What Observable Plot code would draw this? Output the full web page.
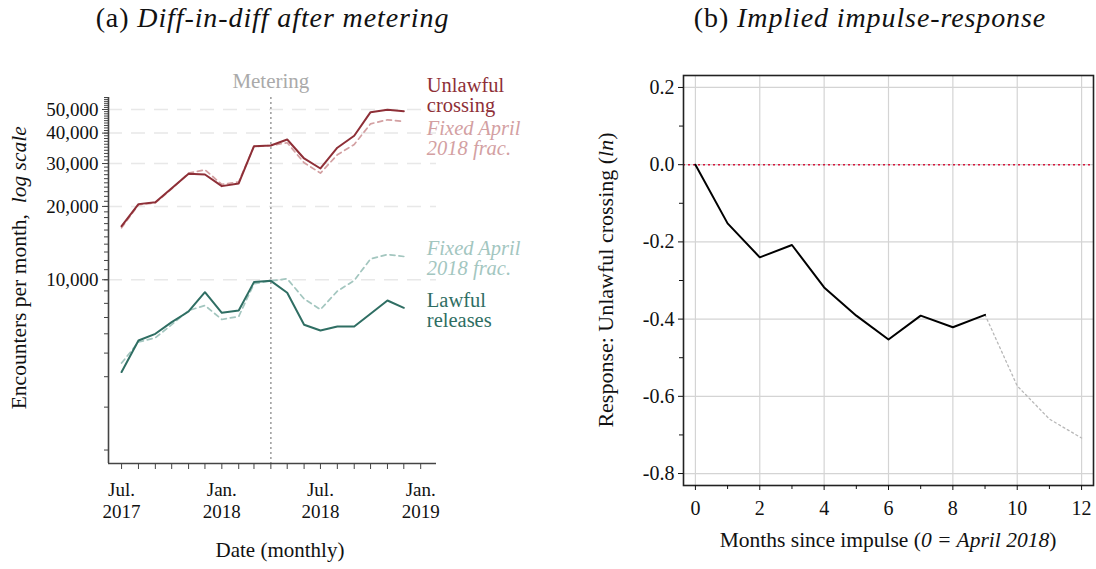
<!DOCTYPE html>
<html>
<head>
<meta charset="utf-8">
<script src="https://cdn.jsdelivr.net/npm/d3@7"></script>
<script src="https://cdn.jsdelivr.net/npm/@observablehq/plot@0.6"></script>
<style>
  body { margin: 0; background: #fff; font-family: "Liberation Serif", serif; }
  #wrap { position: relative; width: 1096px; height: 569px; overflow: hidden; }
  #left, #right { position: absolute; top: 0; }
  #left { left: 0; }
  #right { left: 560px; }
  .txt { position: absolute; white-space: nowrap; color: #111; line-height: 1; text-align: center; }
  .rot { transform: rotate(-90deg); transform-origin: 50% 50%; }
  .title { font-size: 28px; letter-spacing: 0.9px; }
</style>
</head>
<body>
<div id="wrap">
  <div id="left"></div>
  <div id="right"></div>
  <div class="txt title" style="left:0;width:545px;top:4px">(a) <i>Diff-in-diff after metering</i></div>
  <div class="txt title" style="left:600px;width:540px;top:4px">(b) <i>Implied impulse-response</i></div>
  <div class="txt rot" style="left:-180px;width:400px;top:257px;font-size:21.5px">Encounters per month,&nbsp; <i>log scale</i></div>
  <div class="txt" style="left:130px;width:300px;top:540px;font-size:21px">Date (monthly)</div>
  <div class="txt rot" style="left:406px;width:400px;top:269px;font-size:22px">Response: Unlawful crossing (<i>ln</i>)</div>
  <div class="txt" style="left:688px;width:400px;top:530px;font-size:21.5px">Months since impulse (<i>0 = April 2018</i>)</div>
</div>
<script>
// ---- panel (a): monthly encounters, Jul 2017 - Dec 2018
const months = ["2017-07","2017-08","2017-09","2017-10","2017-11","2017-12",
  "2018-01","2018-02","2018-03","2018-04","2018-05","2018-06",
  "2018-07","2018-08","2018-09","2018-10","2018-11","2018-12"];
const unlawful      = [16600,20440,20820,23770,27240,27050,24230,24850,35360,35580,37650,31470,28630,34830,39000,48750,49880,49220];
const unlawfulFixed = [16350,20300,20700,23600,27400,28290,24620,25250,35200,35580,36500,30220,27400,32590,35920,43670,45360,44650];
const lawful        = [4180,5630,6000,6700,7410,8890,7320,7480,9780,9900,8840,6540,6190,6430,6430,7250,8220,7670];
const lawfulFixed   = [4550,5550,5780,6540,7480,7840,6870,7070,9630,9900,10090,8350,7550,8980,9930,12190,12700,12460];
const yMajor = [10000, 20000, 30000, 40000, 50000];
const meteringMonth = "2018-04";

// ---- panel (b): impulse response
const horizon  = [0,1,2,3,4,5,6,7,8,9];
const response = [0,-0.152,-0.240,-0.208,-0.318,-0.391,-0.453,-0.391,-0.421,-0.389];
const extrapHorizon  = [9,10,11,12];
const extrapResponse = [-0.389,-0.573,-0.659,-0.708];
const respTicks = [-0.8,-0.6,-0.4,-0.2,0,0.2];
const respMinor = [-0.7,-0.5,-0.3,-0.1,0.1];

const parse = d3.utcParse("%Y-%m");
const dates = months.map(parse);
const toRows = vals => dates.map((date, i) => ({date, value: vals[i]}));

const red = "#8e2f37", pink = "#d3a0a2", teal = "#2f6e63", mint = "#a3c6bf";
const fontFamily = "'Liberation Serif', serif";

const monthTicks = d3.utcMonth.range(parse("2017-07"), parse("2019-02"));
const minorY = d3.range(2000, 56001, 1000);
const xDomain = [new Date(Date.UTC(2017, 5, 7)), new Date(Date.UTC(2019, 0, 30))];
const yDomain = [1761, 56000];
const last = rows => rows[rows.length - 1];

const uRows = toRows(unlawful), ufRows = toRows(unlawfulFixed);
const lRows = toRows(lawful), lfRows = toRows(lawfulFixed);

const labelOpts = {x: "date", y: "value", textAnchor: "start", lineAnchor: "bottom", dx: 23, fontSize: 20.5, lineHeight: 0.98};

const left = Plot.plot({
  width: 545, height: 569,
  marginLeft: 108, marginRight: 109, marginTop: 97, marginBottom: 106,
  x: {type: "utc", domain: xDomain, axis: null},
  y: {type: "log", domain: yDomain, axis: null},
  style: {fontFamily, fontSize: "19px", color: "#111", background: "#fff"},
  marks: [
    Plot.ruleY(yMajor, {stroke: "#e8e8e8", strokeWidth: 1.5, strokeDasharray: "14,9"}),
    Plot.ruleX([{date: parse(meteringMonth)}], {x: "date", stroke: "#9a9a9a", strokeWidth: 1.5, strokeDasharray: "2,3"}),
    Plot.text([{date: parse(meteringMonth), label: "Metering"}], {
      x: "date", text: "label", frameAnchor: "top", lineAnchor: "bottom", dy: -10,
      fill: "#aaa", fontSize: 21
    }),
    Plot.line(ufRows, {x: "date", y: "value", stroke: pink, strokeWidth: 1.7, strokeDasharray: "5,4"}),
    Plot.line(lfRows, {x: "date", y: "value", stroke: mint, strokeWidth: 1.7, strokeDasharray: "5,4"}),
    Plot.line(uRows, {x: "date", y: "value", stroke: red, strokeWidth: 2}),
    Plot.line(lRows, {x: "date", y: "value", stroke: teal, strokeWidth: 2}),
    Plot.text([last(uRows)], {...labelOpts, text: () => "Unlawful\ncrossing", dy: 1, fill: red}),
    Plot.text([last(ufRows)], {...labelOpts, text: () => "Fixed April\n2018 frac.", dy: 34, fill: pink, fontStyle: "italic"}),
    Plot.text([last(lfRows)], {...labelOpts, text: () => "Fixed April\n2018 frac.", dy: 19, fill: mint, fontStyle: "italic"}),
    Plot.text([last(lRows)], {...labelOpts, text: () => "Lawful\nreleases", dy: 19, fill: teal}),
    Plot.axisY(minorY, {tickSize: 4, tickFormat: () => "", stroke: "#444", label: null}),
    Plot.axisY(yMajor, {tickSize: 6, tickPadding: 4, tickFormat: d3.format(","), stroke: "#444", label: null}),
    Plot.axisX(monthTicks, {
      tickSize: 6, tickPadding: 11, stroke: "#444", label: null, lineHeight: 1.15,
      tickFormat: d => d.getUTCMonth() === 0 ? "Jan.\n" + d.getUTCFullYear()
        : d.getUTCMonth() === 6 ? "Jul.\n" + d.getUTCFullYear() : ""
    }),
    Plot.ruleX([xDomain[0]], {stroke: "#444", strokeWidth: 1.6}),
    Plot.ruleY([yDomain[0]], {stroke: "#444", strokeWidth: 1.6})
  ]
});
document.getElementById("left").append(left);

const respRows = horizon.map((h, i) => ({h, r: response[i]}));
const extrapRows = extrapHorizon.map((h, i) => ({h, r: extrapResponse[i]}));
const evenMonths = d3.range(0, 13, 2), oddMonths = d3.range(1, 13, 2);

const right = Plot.plot({
  width: 536, height: 569,
  marginLeft: 123, marginRight: 3, marginTop: 75, marginBottom: 84,
  x: {domain: [-0.37, 12.37], axis: null},
  y: {domain: [-0.831, 0.231], axis: null},
  style: {fontFamily, fontSize: "20px", color: "#111", background: "#fff"},
  marks: [
    Plot.gridX(evenMonths, {stroke: "#d4d4d4", strokeOpacity: 1, strokeWidth: 1.2}),
    Plot.gridY(respTicks, {stroke: "#d4d4d4", strokeOpacity: 1, strokeWidth: 1.2}),
    Plot.ruleY([0], {stroke: "#d6173c", strokeWidth: 1.6, strokeDasharray: "2,3"}),
    Plot.line(extrapRows, {x: "h", y: "r", stroke: "#b8b8b8", strokeWidth: 1.3, strokeDasharray: "2,3"}),
    Plot.line(respRows, {x: "h", y: "r", stroke: "#000", strokeWidth: 2}),
    Plot.frame({stroke: "#222", strokeWidth: 1.6}),
    Plot.axisY(respMinor, {tickSize: 4, tickFormat: () => "", label: null}),
    Plot.axisY(respTicks, {tickSize: 5, tickPadding: 4, tickFormat: d => d.toFixed(1), label: null}),
    Plot.axisX(oddMonths, {tickSize: 4, tickFormat: () => "", label: null}),
    Plot.axisX(evenMonths, {tickSize: 5, tickPadding: 10, label: null})
  ]
});
document.getElementById("right").append(right);
</script>
</body>
</html>
